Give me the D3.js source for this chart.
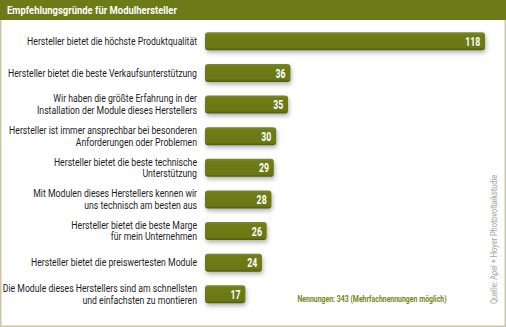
<!DOCTYPE html>
<html>
<head>
<meta charset="utf-8">
<script src="https://cdn.jsdelivr.net/npm/d3@7"></script>
<style>
  body { margin: 0; background: #fff; }
  svg { display: block; font-family: Roboto, "Open Sans", sans-serif; }
</style>
</head>
<body>
<svg id="chart" width="506" height="327"></svg>
<script>
// reasons (line breaks as in the picture) and counts
const categories = [
  "Hersteller bietet die höchste Produktqualität",
  "Hersteller bietet die beste Verkaufsunterstützung",
  "Wir haben die größte Erfahrung in der\nInstallation der Module dieses Herstellers",
  "Hersteller ist immer ansprechbar bei besonderen\nAnforderungen oder Problemen",
  "Hersteller bietet die beste technische\nUnterstützung",
  "Mit Modulen dieses Herstellers kennen wir\nuns technisch am besten aus",
  "Hersteller bietet die beste Marge\nfür mein Unternehmen",
  "Hersteller bietet die preiswertesten Module",
  "Die Module dieses Herstellers sind am schnellsten\nund einfachsten zu montieren"
];
const values = [118, 36, 35, 30, 29, 28, 26, 24, 17];
const title = "Empfehlungsgründe für Modulhersteller";
const note = "Nennungen: 343 (Mehrfachnennungen möglich)";
const source = "Quelle: Apel + Hoyer Photovoltaikstudie";

const W = 506, H = 327;
const green = "#6c7a18";

const svg = d3.select("#chart");

// the original font is a condensed one: squeeze text horizontally around (px, py)
function narrow(px, py, sq, extra) {
  return svg.append("g")
    .attr("transform", "translate(" + px + "," + py + ")" + (extra || "") + " scale(" + sq + ",1)");
}

let defs = svg.append("defs");
let grad = defs.append("linearGradient").attr("id", "barGrad")
  .attr("x1", 0).attr("y1", 0).attr("x2", 0).attr("y2", 1);
grad.append("stop").attr("offset", "0%").attr("stop-color", "#7d8b26");
grad.append("stop").attr("offset", "15%").attr("stop-color", "#6e7c1a");
grad.append("stop").attr("offset", "85%").attr("stop-color", "#6a7816");
grad.append("stop").attr("offset", "100%").attr("stop-color", "#4f5a0c");
defs.append("filter").attr("id", "shadow")
  .attr("x", "-10%").attr("y", "-30%").attr("width", "130%").attr("height", "190%")
  .append("feDropShadow")
  .attr("dx", 1).attr("dy", 2.5).attr("stdDeviation", 2)
  .attr("flood-color", "#555").attr("flood-opacity", 0.45);

// frame
svg.append("rect").attr("x", 0.5).attr("y", 0.5).attr("width", W - 1).attr("height", H - 1)
  .attr("fill", "#fff").attr("stroke", "#c9c7a6").attr("stroke-width", 2);

// title band
svg.append("rect").attr("x", 0).attr("y", 0).attr("width", W).attr("height", 20)
  .attr("fill", green);
narrow(7, 14.3, 0.86).append("text")
  .attr("fill", "#fff").attr("font-size", 11).attr("font-weight", "bold")
  .text(title);

const x = d3.scaleLinear().domain([0, 118]).range([205, 485]);
const y = d3.scaleBand().domain(categories).range([25.5, 310.1])
  .paddingInner(0.43).paddingOuter(0.215);

svg.selectAll(".bar").data(categories).enter().append("rect")
  .attr("class", "bar")
  .attr("x", x(0))
  .attr("y", d => y(d))
  .attr("width", (d, i) => x(values[i]) - x(0))
  .attr("height", y.bandwidth())
  .attr("rx", 3)
  .attr("fill", "url(#barGrad)")
  .attr("filter", "url(#shadow)");

categories.forEach((d, i) => {
  let cy = y(d) + y.bandwidth() / 2;
  narrow(x(values[i]) - 4.8, cy + 4.6, 0.7).append("text")
    .attr("text-anchor", "end")
    .attr("fill", "#fff").attr("font-size", 12.5).attr("font-weight", "bold")
    .text(values[i]);

  let lines = d.split("\n");
  let t = narrow(197, cy, 0.87).append("text")
    .attr("text-anchor", "end").attr("fill", "#1e1e1e").attr("font-size", 10);
  lines.forEach((l, k) => {
    t.append("tspan").attr("x", 0)
      .attr("y", 3.6 + (k - (lines.length - 1) / 2) * 11.7)
      .text(l);
  });
});

narrow(372, 301.5, 0.73).append("text")
  .attr("text-anchor", "middle").attr("fill", "#7a8420")
  .attr("font-size", 9.5).attr("font-weight", "bold")
  .text(note);

narrow(497, 304, 0.78, " rotate(-90)").append("text")
  .attr("fill", "#a3a3a3").attr("font-size", 9.5)
  .text(source);
</script>
</body>
</html>
